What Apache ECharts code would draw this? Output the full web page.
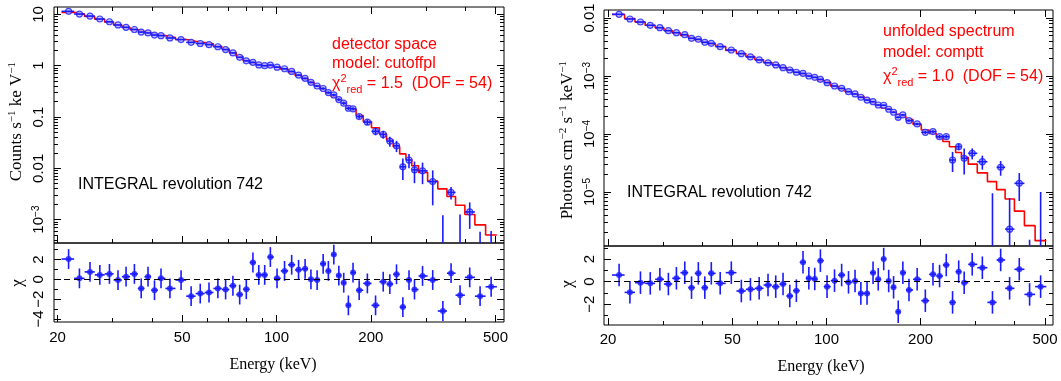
<!DOCTYPE html>
<html>
<head>
<meta charset="utf-8">
<script src="https://cdn.jsdelivr.net/npm/echarts@6/dist/echarts.min.js"></script>
<style>
  html, body { margin: 0; padding: 0; background: #fff; }
  #chart { width: 1061px; height: 381px; }
</style>
</head>
<body>
<div id="chart"></div>
<script>
// energy bins (keV), shared by both spectra
const energy = [21.7, 23.5, 25.4, 27.3, 29.3, 31.2, 33.1, 35.2, 37.0, 38.9,
  40.8, 42.8, 45.7, 49.6, 53.4, 57.1, 60.9, 65.0, 68.8, 72.6,
  76.3, 80.1, 84.1, 87.8, 91.7, 95.6, 100.4, 106.1, 111.8, 117.6,
  123.4, 128.8, 134.8, 140.9, 146.4, 152.4, 158.1, 163.9, 169.6, 175.5,
  183.6, 195.0, 207.1, 219.1, 230.0, 241.6, 253.1, 264.8, 275.7, 292.5,
  315.2, 339.6, 360.7, 385.3, 413.7, 446.4, 484.2];
const binEdges = [20.6, 22.6, 24.4, 26.3, 28.3, 30.2, 32.1, 34.1, 36.1, 37.9,
  39.8, 41.8, 44.2, 47.6, 51.5, 55.2, 59.0, 62.9, 66.9, 70.7,
  74.4, 78.2, 82.1, 85.9, 89.7, 93.6, 98.0, 103.2, 108.9, 114.7,
  120.5, 126.1, 131.8, 137.8, 143.6, 149.4, 155.2, 161.0, 166.7, 172.5,
  179.5, 189.2, 201.0, 213.0, 224.5, 235.7, 247.3, 258.9, 270.2, 284.0,
  303.6, 327.2, 350.0, 372.8, 399.2, 429.7, 464.9, 505];

// left: detector space, cutoffpl (counts s-1 keV-1)
const detCounts = [11.48, 10.14, 9.27, 8.13, 7.18, 6.22, 5.60, 5.08, 4.52, 4.35,
  3.96, 3.85, 3.47, 3.23, 2.85, 2.71, 2.57, 2.34, 2.06, 1.77,
  1.455, 1.242, 1.161, 1.035, 1.0, 1.028, 0.935, 0.871, 0.773, 0.656,
  0.566, 0.473, 0.402, 0.359, 0.299, 0.269, 0.219, 0.186, 0.148, 0.1445,
  0.102, 0.0794, 0.0525, 0.0457, 0.0339, 0.0275, 0.0107, 0.0145, 0.00933, 0.00891,
  0.0055, -0.00005, 0.00339, 0.00019, 0.00141, 0.00028, 0.0002];
const detCountsErr = [0.14, 0.12, 0.11, 0.10, 0.09, 0.08, 0.07, 0.065, 0.06, 0.058,
  0.055, 0.054, 0.05, 0.048, 0.044, 0.043, 0.042, 0.04, 0.037, 0.034,
  0.03, 0.028, 0.027, 0.026, 0.026, 0.026, 0.025, 0.024, 0.023, 0.021,
  0.02, 0.019, 0.018, 0.017, 0.016, 0.015, 0.014, 0.013, 0.012, 0.011,
  0.010, 0.0095, 0.0085, 0.008, 0.0075, 0.0068, 0.0048, 0.0045, 0.0042, 0.0040,
  0.0036, 0.00126, 0.00092, 0.00107, 0.00075, 0.0003, 0.0004];
const detModel = [10.96, 10.12, 9.12, 8.04, 7.08, 6.24, 5.56, 5.01, 4.62, 4.32,
  4.07, 3.85, 3.55, 3.24, 2.99, 2.82, 2.66, 2.40, 2.11, 1.80,
  1.51, 1.27, 1.11, 1.02, 0.989, 0.966, 0.933, 0.851, 0.741, 0.638,
  0.550, 0.473, 0.403, 0.343, 0.292, 0.251, 0.216, 0.188, 0.162, 0.141,
  0.107, 0.0813, 0.0617, 0.0468, 0.0355, 0.0263, 0.0191, 0.0148, 0.0112, 0.00832,
  0.00562, 0.00398, 0.00282, 0.00191, 0.00126, 0.00079, 0.0005];
const detChi = [2.05, 0.1, 0.75, 0.45, 0.55, -0.07, 0.27, 0.55, -0.92, 0.27,
  -1.1, 0.1, -0.92, -0.07, -1.7, -1.44, -1.33, -0.92, -1.03, -0.65,
  -1.54, -1.0, 1.7, 0.45, 0.45, 2.25, 0.1, 0.85, 1.47, 0.96,
  1.06, 0, -0.07, 1.57, 0.85, 2.5, 0.38, -0.34, -2.63, 0.68,
  -1.1, -0.41, -2.63, -0.24, -0.48, 0.51, -2.8, -0.07, -1.03, 0.34,
  -0.07, -3.2, 0.62, -1.6, 0.2, -1.7, -0.75];

// right: unfolded spectrum, comptt (photons cm-2 s-1 keV-1)
const unfFlux = [0.01159, 0.00962, 0.00853, 0.00748, 0.00681, 0.00604, 0.00558, 0.00515, 0.00447, 0.0043,
  0.00381, 0.00366, 0.00321, 0.00281, 0.00243, 0.00213, 0.00189, 0.00169, 0.00155, 0.00139,
  0.00127, 0.00116, 0.00111, 0.001, 0.000948, 0.000877, 0.000767, 0.000673, 0.000612, 0.000537,
  0.00049, 0.00043, 0.000385, 0.000361, 0.000316, 0.000313, 0.000267, 0.000237, 0.000194, 0.000213,
  0.00017, 0.000149, 0.000107, 0.00011, 0.00009, 0.00009, 0.0000356, 0.0000605, 0.0000381, 0.0000465,
  0.0000333, -0.000001, 0.0000266, 0.00000229, 0.0000141, -0.000001, -0.000005];
const unfFluxErr = [0.00014, 0.00012, 0.0001, 0.00009, 0.00008, 0.00007, 0.000065, 0.00006, 0.000055, 0.00005,
  0.000046, 0.000044, 0.00004, 0.000035, 0.00003, 0.000027, 0.000024, 0.000022, 0.00002, 0.000019,
  0.000018, 0.000017, 0.000016, 0.000015, 0.000015, 0.000014, 0.000013, 0.000012, 0.000011, 0.00001,
  0.0000095, 0.000009, 0.0000085, 0.000008, 0.0000078, 0.0000076, 0.0000074, 0.0000072, 0.000007, 0.0000072,
  0.000007, 0.0000068, 0.0000066, 0.0000066, 0.0000065, 0.0000065, 0.0000135, 0.000008, 0.000018, 0.00001,
  0.000009, 0.0000105, 0.0000075, 0.0000055, 0.0000071, 0.0000025, 0.000015];
const unfModel = [0.01148, 0.00977, 0.00855, 0.00752, 0.00676, 0.00608, 0.00552, 0.00501, 0.00455, 0.00417,
  0.00385, 0.00355, 0.00322, 0.00275, 0.00245, 0.00216, 0.00191, 0.00171, 0.00156, 0.0014,
  0.00129, 0.00117, 0.00106, 0.000993, 0.000923, 0.000832, 0.000776, 0.000668, 0.000596, 0.000537,
  0.000486, 0.000447, 0.000398, 0.000347, 0.000313, 0.000282, 0.000266, 0.000243, 0.000219, 0.0002,
  0.000178, 0.000146, 0.000117, 0.000102, 0.0000871, 0.0000741, 0.0000603, 0.0000479, 0.0000398, 0.0000302,
  0.0000214, 0.0000151, 0.000011, 0.00000759, 0.00000468, 0.00000263, 0.00000145];
const unfChi = [0.59, -0.95, -0.09, -0.15, 0.21, -0.21, 0.3, 0.8, -0.53, 0.74,
  -0.53, 0.74, -0.15, 0.8, -0.83, -0.68, -0.59, -0.3, -0.44, -0.21,
  -1.27, -0.8, 1.72, 0.3, 0.24, 1.87, -0.44, 0.09, 0.59, -0.06,
  0.06, -1.04, -1.04, 0.8, 0.21, 2.01, 0.06, -0.5, -2.67, 0.8,
  -0.74, 0.21, -1.69, 0.65, 0.5, 1.48, -1.84, 0.89, -0.09, 1.54,
  1.24, -1.84, 1.93, -0.59, 1.1, -1.13, -0.44];
const CHI_SIGMA = 1;

// tick labels
const xMajorTicks = [20, 50, 100, 200, 500];
const xMinorTicks = [30, 40, 60, 70, 80, 90, 300, 400];
const detDecades = [-3, -2, -1, 0, 1];
const unfDecades = [-5, -4, -3, -2];
const detChiTicks = [-4, -2, 0, 2];
const unfChiTicks = [-2, 0, 2];
const chiMinorTicks = [-3, -1, 1, 3];

const BLUE = '#1a1aff';
const RED = '#ff0000';
const SANS = '"Liberation Sans", Arial, sans-serif';
const SERIF = '"Liberation Serif", "Times New Roman", serif';

const lg = v => (v > 0 ? Math.log10(v) : -99);

// panel frames and ranges (log10 units for log axes)
const panels = [
  { grid: { left: 54, top: 7, width: 450, height: 236 }, x: [1.2899, 2.7261], y: [-3.456, 1.144], kind: 'spec', yTicks: detDecades },
  { grid: { left: 54, top: 243, width: 450, height: 79 }, x: [1.2899, 2.7261], y: [-4.31, 3.67], kind: 'chi', yTicks: detChiTicks },
  { grid: { left: 604, top: 10, width: 449, height: 236 }, x: [1.2882, 2.7246], y: [-5.931, -1.862], kind: 'spec', yTicks: unfDecades },
  { grid: { left: 604, top: 246, width: 449, height: 79 }, x: [1.2882, 2.7246], y: [-3.85, 3.17], kind: 'chi', yTicks: unfChiTicks }
];

function logMinor(range) {
  const out = [];
  for (let d = Math.floor(range[0]); d <= Math.ceil(range[1]); d++) {
    for (let m = 2; m <= 9; m++) {
      const v = d + Math.log10(m);
      if (v > range[0] && v < range[1]) out.push(v);
    }
  }
  return out;
}

function decadeLabel(v) {
  const e = Math.round(v);
  if (e >= -2) return String(+(Math.pow(10, e)).toFixed(2));
  return '{b|10}{s|\u2212' + (-e) + '}';
}
function chiLabel(v) {
  const n = Math.round(v);
  return n < 0 ? '\u2212' + (-n) : String(n);
}

function tickAxis(gridIndex, range, position, values, length, label) {
  return {
    type: 'value', gridIndex, position, min: range[0], max: range[1],
    axisLine: { show: false, onZero: false },
    splitLine: { show: false },
    axisTick: { show: true, inside: true, length, customValues: values, lineStyle: { color: '#000', width: 1 } },
    axisLabel: label
      ? Object.assign({ show: true, customValues: values, color: '#000', fontFamily: SANS, fontSize: 15 }, label)
      : { show: false }
  };
}

const xAxis = [];
const yAxis = [];
const series = [];

function errorBars(params, api) {
  const v0 = api.coord([api.value(0), api.value(1)]);
  const v1 = api.coord([api.value(0), api.value(2)]);
  const h0 = api.coord([api.value(3), api.value(5)]);
  const h1 = api.coord([api.value(4), api.value(5)]);
  const style = { stroke: BLUE, lineWidth: 1.6 };
  return {
    type: 'group',
    children: [
      { type: 'line', shape: { x1: v0[0], y1: v0[1], x2: v1[0], y2: v1[1] }, style },
      { type: 'line', shape: { x1: h0[0], y1: h0[1], x2: h1[0], y2: h1[1] }, style }
    ]
  };
}

panels.forEach((p, i) => {
  const isChi = p.kind === 'chi';
  const xMaj = xMajorTicks.map(Math.log10);
  const xMin = xMinorTicks.map(Math.log10);
  const yMin = isChi ? chiMinorTicks : logMinor(p.y);

  const xb = xAxis.push(tickAxis(i, p.x, 'bottom', xMaj, 7, isChi ? {
    margin: i === 1 ? 8 : 7,
    formatter: v => String(Math.round(Math.pow(10, v)))
  } : null)) - 1;
  xAxis.push(tickAxis(i, p.x, 'bottom', xMin, 4));
  if (!isChi) {
    xAxis.push(tickAxis(i, p.x, 'top', xMaj, 7));
    xAxis.push(tickAxis(i, p.x, 'top', xMin, 4));
  }

  const yl = yAxis.push(tickAxis(i, p.y, 'left', p.yTicks, 7, {
    rotate: 90,
    margin: i < 2 ? 8 : 7,
    formatter: isChi ? chiLabel : decadeLabel,
    rich: {
      b: { fontSize: 15, fontFamily: SANS, color: '#000' },
      s: { fontSize: 10, fontFamily: SANS, color: '#000', verticalAlign: 'top' }
    }
  })) - 1;
  yAxis.push(tickAxis(i, p.y, 'left', yMin, 4));
  yAxis.push(tickAxis(i, p.y, 'right', p.yTicks, 7));
  yAxis.push(tickAxis(i, p.y, 'right', yMin, 4));

  if (!isChi) {
    const vals = i === 0 ? detCounts : unfFlux;
    const errs = i === 0 ? detCountsErr : unfFluxErr;
    const model = i === 0 ? detModel : unfModel;
    series.push({
      type: 'line', xAxisIndex: xb, yAxisIndex: yl, step: 'end', symbol: 'none', z: 2,
      lineStyle: { color: RED, width: 1.6 },
      data: binEdges.map((e, k) => [lg(e), lg(model[Math.min(k, model.length - 1)])])
    });
    series.push({
      type: 'scatter', xAxisIndex: xb, yAxisIndex: yl, symbol: 'circle', symbolSize: 6, z: 3,
      itemStyle: { color: '#b4b4ff', borderColor: BLUE, borderWidth: 1.2 },
      data: energy.map((e, k) => [lg(e), lg(vals[k])])
    });
    series.push({
      type: 'custom', xAxisIndex: xb, yAxisIndex: yl, clip: true, z: 4, renderItem: errorBars,
      data: energy.map((e, k) => [lg(e), lg(vals[k] - errs[k]), lg(vals[k] + errs[k]),
        lg(binEdges[k]), lg(binEdges[k + 1]), lg(vals[k])])
    });
  } else {
    const chi = i === 1 ? detChi : unfChi;
    series.push({
      type: 'custom', xAxisIndex: xb, yAxisIndex: yl, clip: true, z: 3, renderItem: errorBars,
      data: energy.map((e, k) => [lg(e), chi[k] - CHI_SIGMA, chi[k] + CHI_SIGMA,
        lg(binEdges[k]), lg(binEdges[k + 1]), chi[k]])
    });
    series.push({
      type: 'scatter', xAxisIndex: xb, yAxisIndex: yl, symbol: 'circle', symbolSize: 6, z: 4,
      itemStyle: { color: BLUE },
      data: energy.map((e, k) => [lg(e), chi[k]]),
      markLine: {
        silent: true, symbol: ['none', 'none'], label: { show: false },
        lineStyle: { color: '#000', type: [6, 4], width: 1 },
        data: [{ yAxis: 0 }]
      }
    });
  }
});

const supRich = (size) => ({
  t: { fontSize: size, fontFamily: SERIF, fill: '#000', lineHeight: 20 },
  s: { fontSize: 11, fontFamily: SERIF, fill: '#000', verticalAlign: 'top' }
});
const chiRich = {
  c: { fontSize: 16, fontFamily: SANS, fill: RED, lineHeight: 22 },
  p: { fontSize: 11, fontFamily: SANS, fill: RED, verticalAlign: 'top' },
  b: { fontSize: 11, fontFamily: SANS, fill: RED, verticalAlign: 'bottom' }
};
const redText = (x, y, text) => ({ type: 'text', x, y, style: { text, fill: RED, fontSize: 16, fontFamily: SANS, verticalAlign: 'middle' } });
const blackText = (x, y, text, font, size) => ({ type: 'text', x, y, style: { text, fill: '#000', fontSize: size, fontFamily: font, verticalAlign: 'middle' } });

const graphic = [
  { type: 'text', x: 17, y: 62, rotation: Math.PI / 2,
    style: { text: '{t|Counts s}{s|\u22121}{t| ke V}{s|\u22121}', rich: supRich(17), align: 'right', verticalAlign: 'middle' } },
  { type: 'text', x: 568, y: 61, rotation: Math.PI / 2,
    style: { text: '{t|Photons cm}{s|\u22122}{t| s}{s|\u22121}{t| keV}{s|\u22121}', rich: supRich(17), align: 'right', verticalAlign: 'middle' } },
  { type: 'text', x: 18, y: 283, rotation: Math.PI / 2,
    style: { text: '\u03c7', fill: '#000', fontSize: 17, fontFamily: SERIF, align: 'center', verticalAlign: 'middle' } },
  { type: 'text', x: 568, y: 284, rotation: Math.PI / 2,
    style: { text: '\u03c7', fill: '#000', fontSize: 17, fontFamily: SERIF, align: 'center', verticalAlign: 'middle' } },
  { type: 'text', x: 273, y: 365, style: { text: 'Energy (keV)', fill: '#000', fontSize: 16, fontFamily: SERIF, align: 'center', verticalAlign: 'middle' } },
  { type: 'text', x: 821, y: 367, style: { text: 'Energy (keV)', fill: '#000', fontSize: 16, fontFamily: SERIF, align: 'center', verticalAlign: 'middle' } },
  blackText(78, 185, 'INTEGRAL revolution 742', SANS, 16),
  blackText(627, 193, 'INTEGRAL revolution 742', SANS, 16),
  redText(332, 45, 'detector space'),
  redText(332, 64, 'model: cutoffpl'),
  { type: 'text', x: 332, y: 84, style: { text: '{c|\u03c7}{p|2}{b|red}{c| = 1.5  (DOF = 54)}', rich: chiRich, verticalAlign: 'middle' } },
  redText(883, 32, 'unfolded spectrum'),
  redText(883, 53, 'model: comptt'),
  { type: 'text', x: 883, y: 77, style: { text: '{c|\u03c7}{p|2}{b|red}{c| = 1.0  (DOF = 54)}', rich: chiRich, verticalAlign: 'middle' } }
];

const chart = echarts.init(document.getElementById('chart'), null, { renderer: 'canvas' });
chart.setOption({
  animation: false,
  backgroundColor: '#fff',
  grid: panels.map(p => Object.assign({ show: true, borderColor: '#000', borderWidth: 1, backgroundColor: 'transparent' }, p.grid)),
  xAxis,
  yAxis,
  series,
  graphic
});
</script>
</body>
</html>
